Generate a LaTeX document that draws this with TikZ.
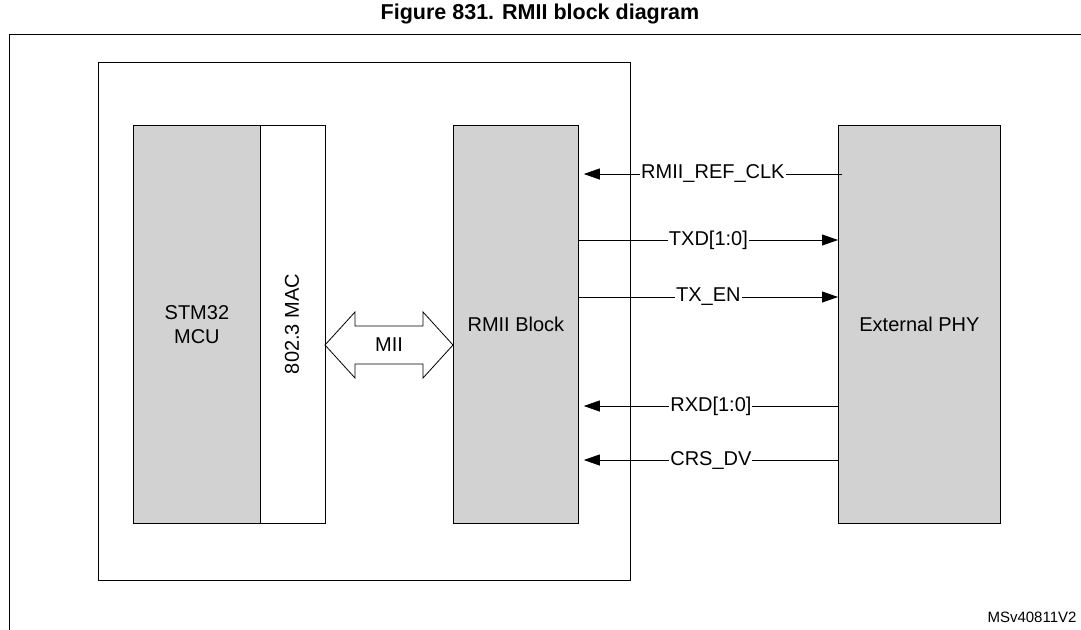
\documentclass[tikz,border=0pt]{standalone}
\usepackage{fontspec}
\setmainfont{Liberation Sans}
\usetikzlibrary{arrows.meta}
\begin{document}
\begin{tikzpicture}[x=1pt,y=-1pt,
  blk/.style={draw,fill=gray!35,line width=0.8pt,inner sep=0pt,anchor=north west,align=center,font=\fontsize{20}{24}\selectfont},
  sig/.style={line width=0.8pt,-{Triangle[length=16pt,width=11pt]}},
  lbl/.style={fill=white,inner sep=1pt,font=\fontsize{20}{24}\selectfont}]
\useasboundingbox (0,0) rectangle (1081,629);
\node[font=\bfseries\fontsize{21.5}{24}\selectfont] (title) at (540,14) {Figure 831. RMII block diagram};
\draw[line width=0.8pt] (9,640) -- (9,34) -- (1090,34);
\node[draw,line width=0.8pt,anchor=north west,minimum width=532pt,minimum height=518pt,inner sep=0pt] (chip) at (98,62) {};
\node[blk,minimum width=127pt,minimum height=398pt] (mcu) at (133,125) {STM32\\MCU};
\node[blk,fill=white,minimum width=65pt,minimum height=398pt] (mac) at (260,125) {};
\node[rotate=90,font=\fontsize{20}{24}\selectfont] (macl) at (292,324) {802.3 MAC};
\node[blk,minimum width=125pt,minimum height=398pt] (rmii) at (453,125) {RMII Block};
\node[blk,minimum width=162pt,minimum height=398pt] (phy) at (838,125) {External PHY};
\draw[line width=0.8pt] (325,345) -- (355,312) -- (355,326) -- (423,326) -- (423,312) -- (453,345) -- (423,378) -- (423,364) -- (355,364) -- (355,378) -- cycle;
\node[font=\fontsize{20}{24}\selectfont] (mii) at (389,345) {MII};
\draw[sig] ([xshift=4pt]phy.north west |- 0,174) -- ([xshift=5pt]rmii.north east |- 0,174) node[lbl,pos=0.5] {RMII\_REF\_CLK};
\draw[sig] (rmii.north east |- 0,240) -- (phy.north west |- 0,240) node[lbl,pos=0.5] {TXD[1:0]};
\draw[sig] (rmii.north east |- 0,297) -- (phy.north west |- 0,297) node[lbl,pos=0.5] {TX\_EN};
\draw[sig] (phy.north west |- 0,406) -- ([xshift=5pt]rmii.north east |- 0,406) node[lbl,pos=0.5] {RXD[1:0]};
\draw[sig] (phy.north west |- 0,460) -- ([xshift=5pt]rmii.north east |- 0,460) node[lbl,pos=0.5] {CRS\_DV};
\node[font=\fontsize{15}{17}\selectfont,anchor=east] (ref) at (1080,617) {MSv40811V2};
\end{tikzpicture}
\end{document}
